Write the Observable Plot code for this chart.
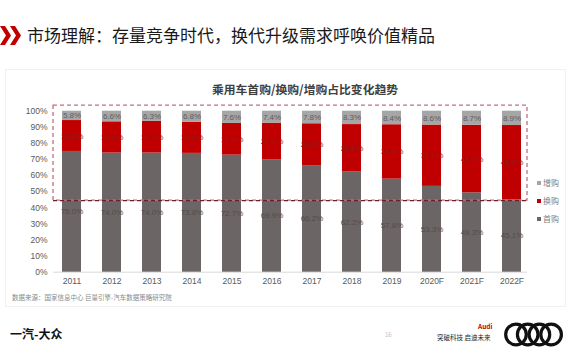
<!DOCTYPE html>
<html>
<head>
<meta charset="utf-8">
<script src="https://cdn.jsdelivr.net/npm/d3@7"></script>
<script src="https://cdn.jsdelivr.net/npm/@observablehq/plot@0.6"></script>
<style>
  html, body { margin: 0; padding: 0; background: #fff; }
  body { width: 570px; height: 360px; position: relative; overflow: hidden;
         font-family: "Noto Sans CJK SC", "Noto Sans", sans-serif; }
  .abs { position: absolute; white-space: nowrap; }
  #panel { position: absolute; left: 5px; top: 69px; width: 559px; height: 236px; border: 1px solid #f1f1f1; }
  #chart { position: absolute; left: 0; top: 75px; }
  .leg { position: absolute; left: 537px; font-size: 8px; color: #808080; line-height: 10px; }
  .leg i { display: inline-block; width: 4px; height: 4px; margin-right: 2px; vertical-align: 1px; }
</style>
</head>
<body>
<svg class="abs" style="left:0;top:26px" width="24" height="20">
  <polygon points="0,0 5,0 11,9.5 5,19 0,19 6,9.5" fill="#c00000"/>
  <polygon points="10,0 15,0 21,9.5 15,19 10,19 16,9.5" fill="#c00000"/>
</svg>
<div class="abs" style="left:27px;top:23px;font-size:17px;color:#1a1a1a;line-height:24px">市场理解：存量竞争时代，换代升级需求呼唤价值精品</div>
<div id="panel"></div>
<div class="abs" style="left:0;width:610px;text-align:center;top:81px;font-size:11.8px;font-weight:bold;color:#404040;line-height:16px">乘用车首购/换购/增购占比变化趋势</div>
<div id="chart"></div>
<div id="legend"></div>
<div class="abs" style="left:12px;top:292px;font-size:6.5px;color:#8a8a8a;line-height:10px">数据来源：国家信息中心 巨量引擎-汽车数据策略研究院</div>
<div class="abs" style="left:10px;top:325px;font-size:12px;font-weight:bold;color:#111;line-height:18px">一汽-大众</div>
<div class="abs" style="left:385px;top:330px;font-size:6px;color:#c0c0c0;line-height:10px">16</div>
<div class="abs" style="left:478px;top:322px;font-size:6.5px;font-weight:bold;color:#c00000;line-height:9px">Audi</div>
<div class="abs" style="left:437px;top:332px;font-size:6.5px;color:#222;line-height:10px">突破科技 启迪未来</div>
<svg class="abs" style="left:503px;top:320px" width="64" height="30">
  <g fill="none" stroke="#111" stroke-width="3.2">
    <circle cx="13" cy="14.5" r="10.3"/>
    <circle cx="24.7" cy="14.5" r="10.3"/>
    <circle cx="36.4" cy="14.5" r="10.3"/>
    <circle cx="48.1" cy="14.5" r="10.3"/>
  </g>
</svg>
<script>
// ---- data ----
const years = ["2011","2012","2013","2014","2015","2016","2017","2018","2019","2020F","2021F","2022F"];
const seriesNames = ["首购", "换购", "增购"];
const seriesColors = ["#6b6566", "#c00000", "#a6a6a6"];
const labelColors = ["#524c4d", "#8e1c1c", "#5e5e5e"];
const firstBuy   = [75.0, 74.0, 74.0, 73.8, 72.7, 69.9, 66.2, 62.2, 57.8, 53.3, 49.3, 45.1];
const replaceBuy = [19.2, 19.4, 19.7, 19.4, 19.7, 22.7, 26.0, 29.5, 33.8, 38.1, 42.0, 46.0];
const addBuy     = [5.8, 6.6, 6.3, 6.8, 7.6, 7.4, 7.8, 8.3, 8.4, 8.6, 8.7, 8.9];
const yTicks = [0, 10, 20, 30, 40, 50, 60, 70, 80, 90, 100];
const highlightRange = [44.5, 103.5];

const seriesValues = [firstBuy, replaceBuy, addBuy];
const rows = [];
years.forEach((yr, i) => {
  seriesNames.forEach((s, k) => rows.push({year: yr, type: s, value: seriesValues[k][i], k}));
});

const font = '"Liberation Sans", Arial, sans-serif';
const chart = Plot.plot({
  width: 570, height: 215,
  marginTop: 35.7, marginBottom: 18.3, marginLeft: 53, marginRight: 43,
  style: {fontFamily: font, fontSize: "8.5px", color: "#595959", background: "transparent", overflow: "visible"},
  x: {domain: years, range: [41.6, 542.4], padding: 0.52, label: null},
  y: {domain: [0, 100], label: null},
  color: {domain: seriesNames, range: seriesColors},
  marks: [
    Plot.axisY({ticks: yTicks, tickSize: 0, tickPadding: 6, tickFormat: d => d + "%", label: null}),
    Plot.axisX({tickSize: 0, tickPadding: 6, label: null}),
    Plot.ruleY([0], {stroke: "#d9d9d9"}),
    Plot.barY(rows, {x: "year", y: "value", fill: "type", z: "type"}),
    Plot.text(rows, Plot.stackY({x: "year", y: "value", z: "type",
      text: d => d.value.toFixed(1) + "%", fill: d => labelColors[d.k], fontSize: 8})),
    Plot.rect([highlightRange], {y1: d => d[0], y2: d => d[1], fill: "none",
      stroke: "#c0707c", strokeWidth: 1.3, strokeDasharray: "4,3"}),
    Plot.ruleY([highlightRange[0]], {stroke: "#6e1f2e", strokeWidth: 1.3, strokeDasharray: "4,3"})
  ]
});
document.getElementById("chart").appendChild(chart);

// legend (top to bottom: 增购, 换购, 首购)
const legend = document.getElementById("legend");
const legendTops = [214, 196, 178];
seriesNames.forEach((s, k) => {
  const el = document.createElement("div");
  el.className = "leg";
  el.style.top = legendTops[k] + "px";
  el.innerHTML = `<i style="background:${seriesColors[k]}"></i>${s}`;
  legend.appendChild(el);
});
</script>
</body>
</html>
